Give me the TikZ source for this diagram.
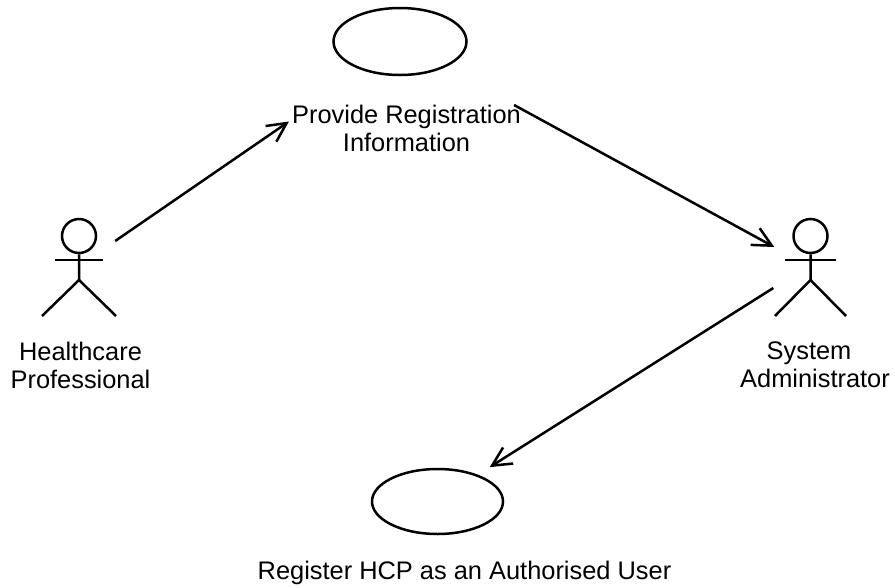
\documentclass[tikz,border=0pt]{standalone}
\usepackage{fontspec}
\setmainfont{Liberation Sans}
\usetikzlibrary{arrows.meta,shapes.geometric}
\tikzset{
  usecase/.style={draw,ellipse,line width=2.5pt,inner sep=0pt},
  actorbox/.style={inner sep=0pt,minimum width=72pt,minimum height=98pt},
  actorhead/.style={draw,circle,line width=2.5pt,inner sep=0pt,minimum size=34pt},
  limb/.style={line width=2.5pt},
  lbl/.style={inner sep=0pt,align=center,font=\fontsize{25.4}{28}\selectfont},
  flow/.style={line width=2.5pt,-{Straight Barb[length=19pt,width=19pt,line width=2.5pt]}}
}
\begin{document}
\begin{tikzpicture}[x=1pt,y=-1pt]
\useasboundingbox (0,0) rectangle (895,587);
% use cases
\node[usecase,minimum width=133pt,minimum height=67pt] (uc1) at (400,41.5) {};
\node[usecase,minimum width=131pt,minimum height=65pt] (uc2) at (437.5,501.5) {};
% actors
\node[actorbox] (hcp) at (79,267) {};
\node[actorhead] (hcph) at (79,236) {};
\draw[limb] (hcph.south) -- (79,280) -- (42,316);
\draw[limb] (79,280) -- (116,316);
\draw[limb] (55,260) -- (103,260);
\node[actorbox] (sa) at (810.5,267) {};
\node[actorhead] (sah) at (810.5,236) {};
\draw[limb] (sah.south) -- (810.5,280) -- (775,316);
\draw[limb] (810.5,280) -- (846,316);
\draw[limb] (785,260) -- (836,260);
% labels
\node[lbl] (pri) at (406.5,128.5) {Provide Registration\\Information};
\node[lbl] (hcpl) at (80.5,365) {Healthcare\\Professional};
\node[lbl] (sal) at (815,365) {System\hspace*{12pt}\\Administrator};
\node[lbl] (ucl) at (464.5,573) {Register HCP as an Authorised User};
% connectors
\draw[flow] ([yshift=26pt,xshift=0pt]hcp.east) -- ([xshift=-3pt,yshift=7pt]pri.west);
\draw[flow] ([xshift=-7pt]pri.north east) -- ([yshift=20pt]sa.west);
\draw[flow] ([xshift=-1pt,yshift=-21pt]sa.west) -- ([xshift=5pt,yshift=10.5pt]uc2.north east);
\end{tikzpicture}
\end{document}
